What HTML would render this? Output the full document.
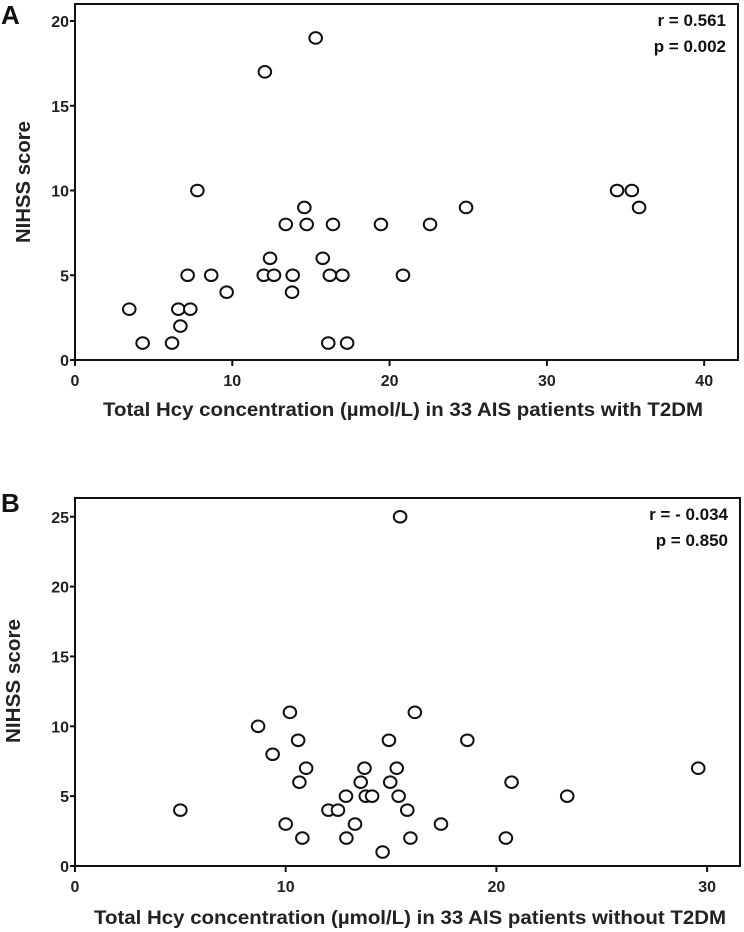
<!DOCTYPE html>
<html><head><meta charset="utf-8"><style>
html,body{margin:0;padding:0;background:#fff;}
svg{display:block;font-family:"Liberation Sans",Arial,sans-serif;font-weight:bold;}
</style></head><body>
<svg id="chart" width="744" height="932" viewBox="0 0 744 932"></svg>
<script>
const aX = [3.45,4.3,6.17,6.7,6.57,7.33,7.16,7.78,8.66,9.64,12.07,12.0,12.4,12.65,13.4,13.84,13.8,14.58,14.73,15.3,15.75,16.2,16.4,16.1,17.0,17.3,19.45,20.85,22.57,24.86,34.46,35.4,35.86];
const aY = [3,1,1,2,3,3,5,10,5,4,17,5,6,5,8,5,4,9,8,19,6,5,8,1,5,1,8,5,8,9,10,10,9];
const bX = [5.0,8.69,9.38,10.2,10.0,10.59,10.65,10.79,10.97,12.03,12.48,12.86,12.88,13.29,13.56,13.74,13.8,14.1,14.6,14.9,14.96,15.27,15.36,15.43,15.77,15.92,16.13,17.37,18.62,20.45,20.72,23.36,29.58];
const bY = [4,10,8,11,3,9,6,2,7,4,4,5,2,3,6,7,5,5,1,9,6,7,5,25,4,2,11,3,9,2,6,5,7];
const aXTicks = [0,10,20,30,40];
const aYTicks = [0,5,10,15,20];
const bXTicks = [0,10,20,30];
const bYTicks = [0,5,10,15,20,25];

const svg = document.getElementById('chart');
const NS = 'http://www.w3.org/2000/svg';
function mk(tag, attrs, parent){
  const e = document.createElementNS(NS, tag);
  for (const k in attrs) e.setAttribute(k, attrs[k]);
  (parent||svg).appendChild(e);
  return e;
}
function panel(p){
  const g = mk('g', {});
  
  
  const sx = v => p.x0 + v * p.xs;
  const sy = v => p.y0 - v * p.ys;
  const box = mk('rect', {x:p.left, y:p.top, width:p.right-p.left, height:p.y0-p.top, fill:'none', stroke:'#111', 'stroke-width':2}, g);
  
  
  p.yt.forEach(v => {
    const t = mk('line', {x1:p.left-5, x2:p.left, y1:sy(v), y2:sy(v), stroke:'#111', 'stroke-width':2}, g);
    
    
    const l = mk('text', {x:p.left-6, y:sy(v)+6, 'text-anchor':'end', 'font-size':16, fill:'#222'}, g);
    l.textContent = v;
    
    
  });
  p.xt.forEach(v => {
    const t = mk('line', {x1:sx(v), x2:sx(v), y1:p.y0, y2:p.y0+6, stroke:'#111', 'stroke-width':2}, g);
    
    
    const l = mk('text', {x:sx(v), y:p.y0+26, 'text-anchor':'middle', 'font-size':16, fill:'#222'}, g);
    l.textContent = v;
    
    
  });
  p.xs_data.forEach((v,i) => {
    const c = mk('ellipse', {cx:sx(v), cy:sy(p.ys_data[i]), rx:6.3, ry:5.8, fill:'#fff', stroke:'#111', 'stroke-width':2}, g);
    
    
  });
  const yt = mk('text', {x:0, y:0, transform:`translate(${p.ytx},${p.ytc}) rotate(-90)`, 'text-anchor':'middle', 'font-size':20, fill:'#222', textLength:p.ytl, lengthAdjust:'spacingAndGlyphs'}, g);
  yt.textContent = 'NIHSS score';
  
  
  const xt = mk('text', {x:p.xtx, y:p.xty, 'text-anchor':'middle', 'font-size':19, fill:'#222', textLength:p.xtl, lengthAdjust:'spacingAndGlyphs'}, g);
  xt.textContent = p.xtitle;
  
  
  const r = mk('text', {x:p.right-12, y:p.top+22, 'text-anchor':'end', 'font-size':17, fill:'#111'}, g);
  r.textContent = p.r;
  
  
  const pv = mk('text', {x:p.right-12, y:p.top+48, 'text-anchor':'end', 'font-size':17, fill:'#111'}, g);
  pv.textContent = p.p;
  
  
  const lb = mk('text', {x:p.lx, y:p.ly, 'font-size':26, fill:'#111'}, g);
  lb.textContent = p.id;
  
  
}
panel({id:'A', left:75, top:4, right:738, x0:75, xs:15.73, y0:360, ys:16.95, xt:aXTicks, yt:aYTicks,
  xs_data:aX, ys_data:aY, ytx:30, ytc:182, ytl:122, xtx:403, xty:416, xtl:600, xtitle:'Total Hcy concentration (µmol/L) in 33 AIS patients with T2DM',
  r:'r = 0.561', p:'p = 0.002', lx:1, ly:24});
panel({id:'B', left:75, top:498, right:740, x0:75, xs:21.07, y0:866, ys:13.97, xt:bXTicks, yt:bYTicks,
  xs_data:bX, ys_data:bY, ytx:20, ytc:681, ytl:124, xtx:410, xty:924, xtl:632, xtitle:'Total Hcy concentration (µmol/L) in 33 AIS patients without T2DM',
  r:'r = - 0.034', p:'p = 0.850', lx:1, ly:512});
</script>
</body></html>
